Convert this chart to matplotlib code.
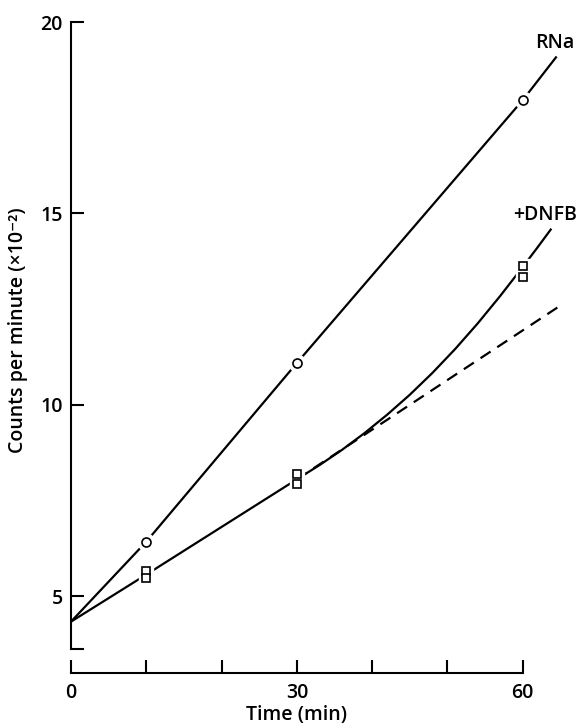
import matplotlib
matplotlib.use("Agg")
import matplotlib.pyplot as plt

plt.rcParams['font.family'] = ['Open Sans', 'DejaVu Sans']

# ---- data ----
rna_t = [10, 30, 60]
rna_counts = [6.42, 11.09, 17.96]
rna_line_t = [0, 10, 30, 60, 64.5]
rna_line_v = [4.33, 6.42, 11.09, 17.96, 19.1]

dnfb_t = [10, 10, 30, 30, 60, 60]
dnfb_counts = [5.66, 5.46, 8.18, 7.93, 13.62, 13.34]
dnfb_line_t = [0, 10, 30, 33, 36, 39, 42, 45, 48, 51, 54, 57, 60, 62, 63.8]
dnfb_line_v = [4.33, 5.56, 8.05, 8.42, 8.82, 9.26, 9.74, 10.26, 10.83, 11.45, 12.12, 12.84, 13.6, 14.12, 14.6]

dash_t = [30, 65.3]
dash_v = [8.05, 12.63]

xticks = [0, 10, 20, 30, 40, 50, 60]
xticklabels = ['0', '', '', '30', '', '', '60']
yticks = [3.615, 5, 10, 15, 20]
yticklabels = ['', '5', '10', '15', '20']

FS = 14
FW = 'semibold'

fig = plt.figure(figsize=(5.86, 7.26), dpi=100)
ax = fig.add_axes([71/586, 53/726, 515/586, 659/726])
ax.set_xlim(0, 68.4)
ax.set_ylim(2.988, 20.21)

lw = 1.6
ax.plot(rna_line_t, rna_line_v, color='black', lw=lw, zorder=2, solid_capstyle='butt')
ax.plot(dnfb_line_t, dnfb_line_v, color='black', lw=lw, zorder=2, solid_capstyle='butt',
        solid_joinstyle='round')
ax.plot(dash_t, dash_v, color='black', lw=lw, zorder=2, linestyle=(0, (5.4, 3.6)))

# white halos to break the lines around the markers
ax.plot(rna_t, rna_counts, linestyle='none', marker='o', ms=12, mfc='white', mec='white', zorder=3)
ax.plot(dnfb_t, dnfb_counts, linestyle='none', marker='s', ms=10, mfc='white', mec='white', zorder=3)
# markers
ax.plot(rna_t, rna_counts, linestyle='none', marker='o', ms=6.5, mfc='white', mec='black', mew=1.2, zorder=4)
ax.plot(dnfb_t, dnfb_counts, linestyle='none', marker='s', ms=5.2, mfc='white', mec='black', mew=1.2, zorder=4)

ax.text(64.2, 19.45, 'RNa', fontsize=FS, fontweight=FW, ha='center', va='center')
ax.text(63.0, 14.96, '+DNFB', fontsize=FS, fontweight=FW, ha='center', va='center')

for s in ['top', 'right']:
    ax.spines[s].set_visible(False)
ax.spines['left'].set_bounds(3.615, 20)
ax.spines['bottom'].set_bounds(0, 60)
ax.spines['left'].set_linewidth(1.5)
ax.spines['bottom'].set_linewidth(1.5)

ax.set_xticks(xticks)
ax.set_xticklabels(xticklabels)
ax.set_yticks(yticks)
ax.set_yticklabels(yticklabels)
ax.tick_params(axis='both', direction='in', length=9.5, width=1.5, labelsize=FS)
ax.tick_params(axis='x', pad=7.5)
ax.tick_params(axis='y', pad=5.8)
for lab in ax.get_xticklabels() + ax.get_yticklabels():
    lab.set_fontweight(FW)

ax.set_xlabel('Time (min)', fontsize=FS, fontweight=FW)
ax.xaxis.set_label_coords(30/68.4, -42/659)
ax.xaxis.label.set_va('center')
ax.set_ylabel('Counts per minute (×10⁻²)', fontsize=FS, fontweight=FW)
ax.yaxis.set_label_coords(-53/515, 0.52)
ax.yaxis.label.set_va('center')

fig.savefig('out.png', dpi=100)
